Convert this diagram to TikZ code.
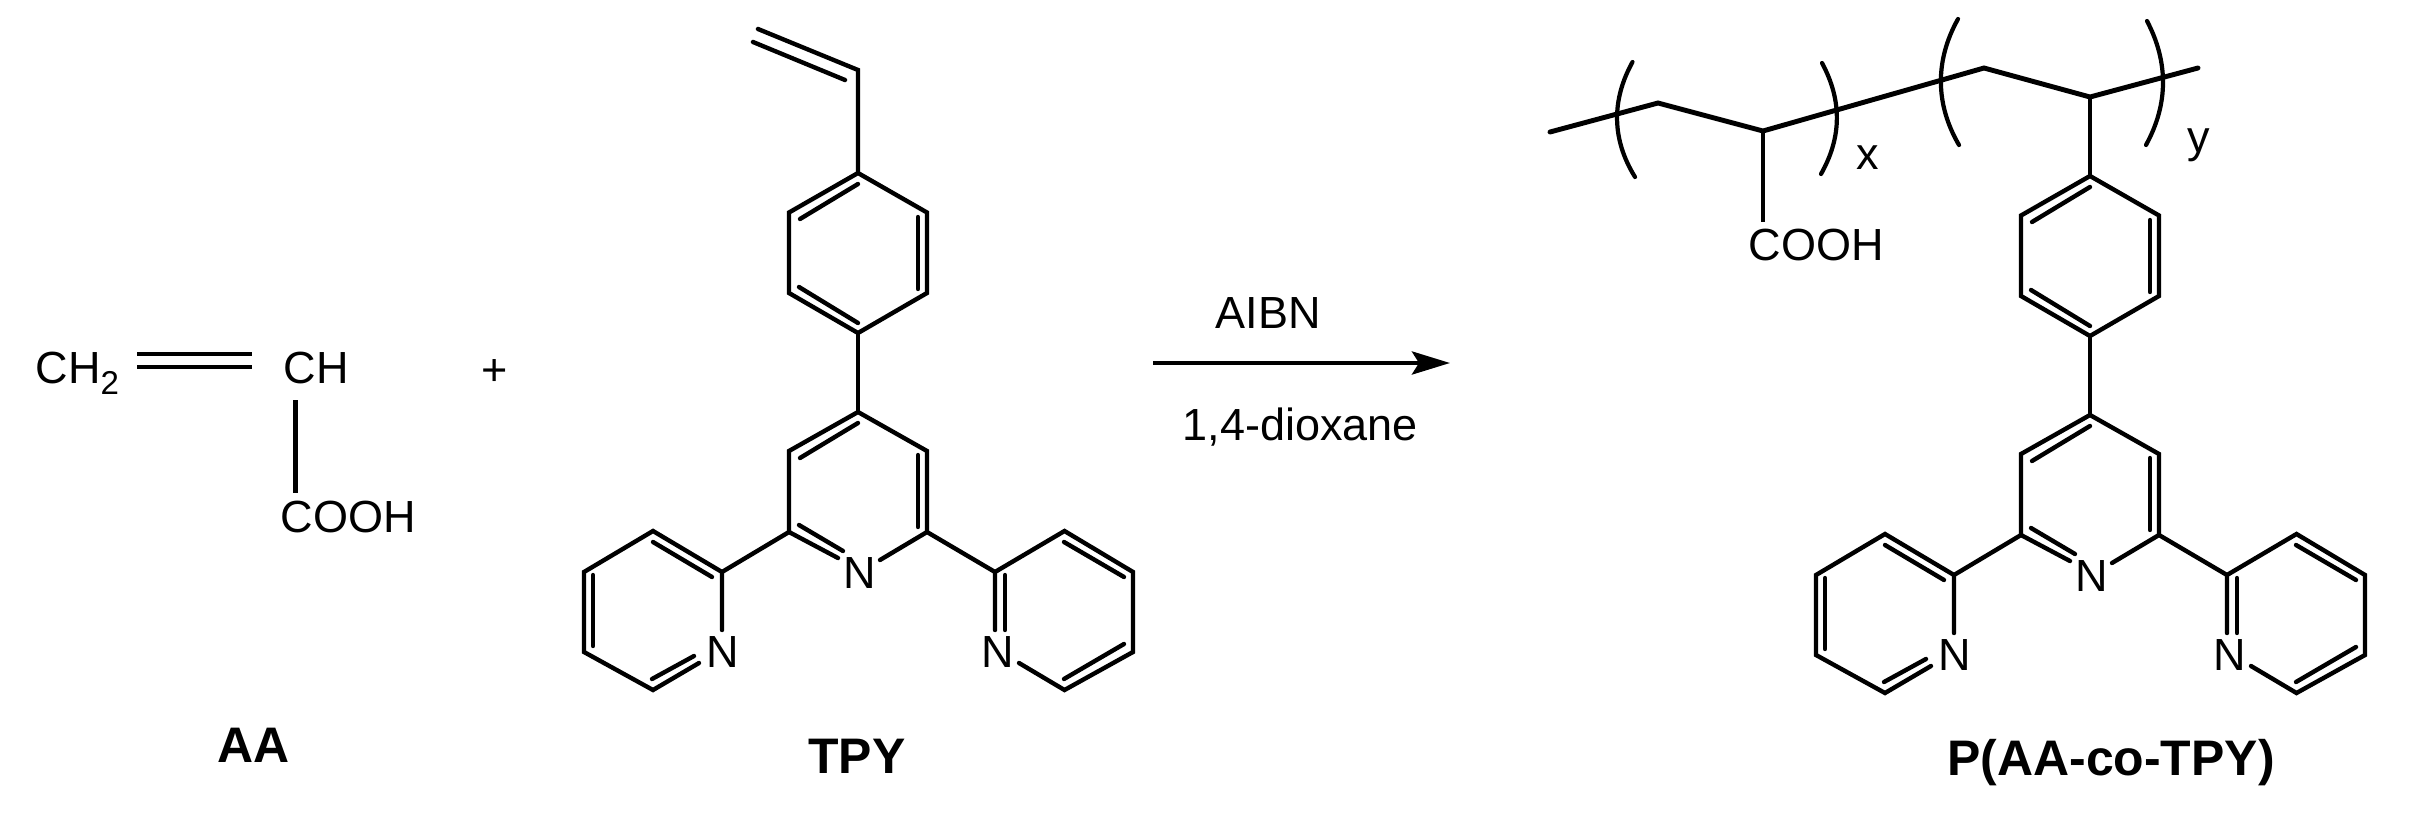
\documentclass[tikz,border=0pt]{standalone}
\usepackage{fontspec}
\setmainfont{Liberation Sans}
\usetikzlibrary{arrows.meta}

\tikzset{
    bond/.style={line width=1.25pt, line cap=round, line join=miter},
    backbone/.style={line width=1.4pt, line cap=round, line join=miter},
    bracket/.style={line width=1.2pt, line cap=round},
    atom/.style={anchor=base west, inner sep=0pt, font=\fontsize{12.8}{15}\selectfont},
    molname/.style={anchor=base, inner sep=0pt, font=\fontsize{14.2}{17}\selectfont\bfseries},
}

\begin{document}
\begin{tikzpicture}[x=0.01cm, y=-0.01cm]
    \useasboundingbox (0,0) rectangle (2414,830);

    % acrylic acid
    \node [atom] (ch2) at (35, 383) {CH\raisebox{-0.11cm}{\fontsize{9.4}{11}\selectfont 2}};
    \node [atom] (ch) at (283, 383) {CH};
    \node [atom] (cooh1) at (280, 532) {COOH};
    \coordinate (c1) at (295.5, 400);
    \coordinate (c2) at (295.5, 493);
    \draw [bond, line cap=butt] (137, 354) -- (252, 354);
    \draw [bond, line cap=butt] (137, 367) -- (252, 367);
    \draw [bond, line cap=butt] (c1) -- (c2);
    \node [atom] (plus) at (481, 385) {+};
    \node [molname] (aa) at (254, 762) {AA};

    % terpyridine part, drawn twice
    \foreach \i/\dx/\dy in {1/0/0, 2/1232/3}{
        \begin{scope}[shift={(\dx, \dy)}]
            \coordinate (top\i) at (858, 173);
            \coordinate (bot\i) at (858, 333);
            % phenyl
            \draw [bond] (top\i) -- (789, 212.5) -- (789, 293) -- (bot\i) -- (927, 293) -- (927, 212.5) -- cycle;
            \draw [bond] (800, 219) -- (858, 184);
            \draw [bond] (918, 217) -- (918, 289);
            \draw [bond] (799, 287) -- (858, 323);
            \draw [bond] (bot\i) -- (858, 412);
            % central pyridine
            \node [atom] (nm\i) at (843, 588) {N};
            \draw [bond] (838, 558) -- (789, 532) -- (789, 451) -- (858, 412) -- (927, 451) -- (927, 532) -- (880, 560);
            \draw [bond] (800, 458) -- (858, 423);
            \draw [bond] (918, 455) -- (918, 527);
            \draw [bond] (799, 525) -- (843, 551);
            % left pyridine
            \node [atom] (nl\i) at (706, 667) {N};
            \draw [bond] (789, 532) -- (722, 572);
            \draw [bond] (722, 630) -- (722, 572) -- (653, 531) -- (584, 572) -- (584, 652) -- (653, 690) -- (699, 663);
            \draw [bond] (653, 542) -- (712, 577);
            \draw [bond] (593, 575) -- (593, 646);
            \draw [bond] (652, 679) -- (694, 656);
            % right pyridine
            \node [atom] (nr\i) at (981, 667) {N};
            \draw [bond] (927, 532) -- (995, 572);
            \draw [bond] (995, 630) -- (995, 572) -- (1064.5, 531) -- (1133, 572) -- (1133, 652) -- (1064.5, 690) -- (1019, 663);
            \draw [bond] (1005, 575) -- (1005, 630);
            \draw [bond] (1064, 542) -- (1124, 577);
            \draw [bond] (1064, 679) -- (1124, 644);
        \end{scope}
    }

    % vinyl group
    \draw [bond] (758, 29) -- (858, 70) -- (top1);
    \draw [bond] (753, 42) -- (845, 80);
    \node [molname] (tpy) at (857, 773) {TPY};

    % reaction arrow
    \coordinate (a1) at (1153, 363);
    \coordinate (a2) at (1450, 363);
    \draw [bond, line cap=butt, -{Stealth[length=0.38cm, width=0.23cm, inset=0.07cm]}] (a1) -- (a2);
    \node [atom] (aibn) at (1215, 328) {AIBN};
    \node [atom] (diox) at (1182, 440) {1,4-dioxane};

    % polymer chain
    \coordinate (p1) at (1763, 131);
    \coordinate (p2) at (2090, 97);
    \draw [backbone] (1550, 132) -- (1658, 103) -- (p1) -- (1984, 68) -- (p2) -- (2198, 68);
    \draw [bond, line cap=butt] (p1) -- (1763, 222);
    \draw [bond, line cap=butt] (p2) -- (top2);
    \node [atom] (cooh2) at (1748, 260) {COOH};

    \draw [bracket] (1632.5, 62) .. controls (1611.5, 100) and (1611.5, 139) .. (1635, 177);
    \draw [bracket] (1822, 63) .. controls (1842, 100) and (1842, 137) .. (1821, 174);
    \draw [bracket] (1958, 19) .. controls (1935, 60) and (1935, 104) .. (1959, 145);
    \draw [bracket] (2147, 21) .. controls (2168.5, 62) and (2168.5, 104) .. (2146, 145);
    \node [atom] (nx) at (1856, 169) {x};
    \node [atom] (ny) at (2187, 152) {y};

    \node [molname] (poly) at (2111, 775) {P(AA-co-TPY)};
\end{tikzpicture}
\end{document}
